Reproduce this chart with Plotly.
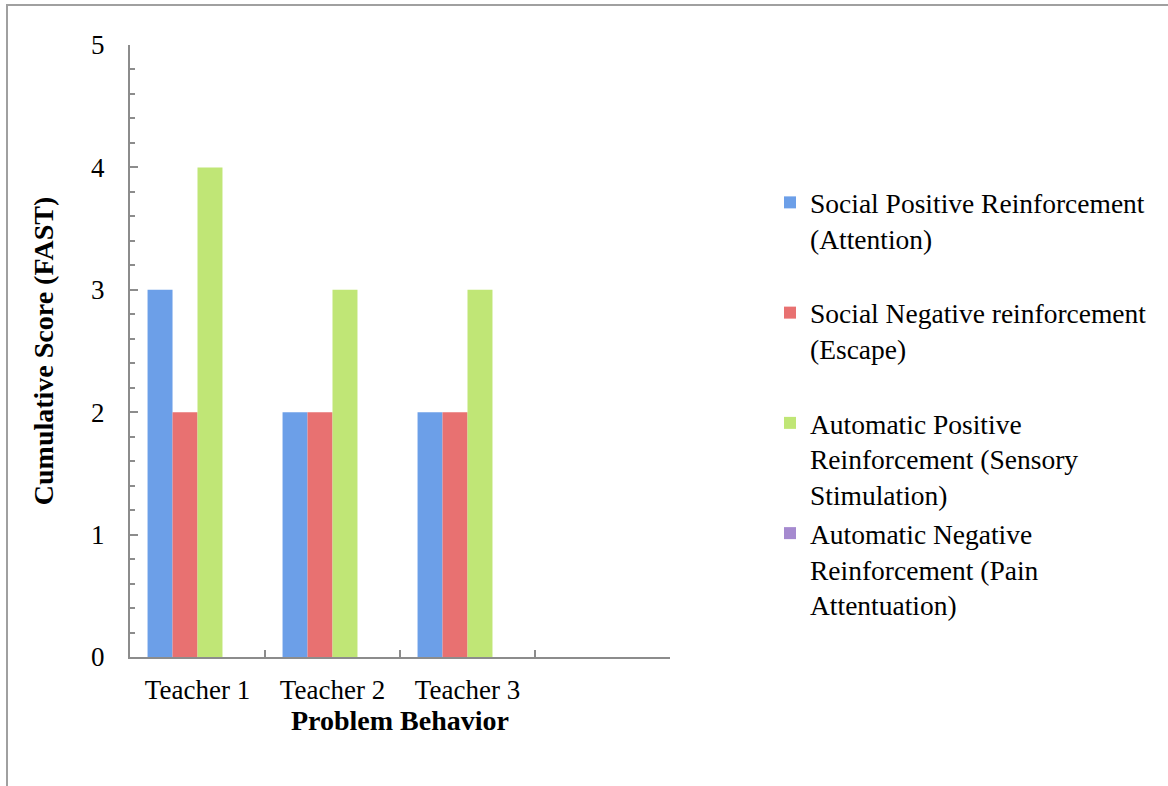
import plotly.graph_objects as go

categories = ["Teacher 1", "Teacher 2", "Teacher 3"]
all_slots = ["Teacher 1", "Teacher 2", "Teacher 3", " "]
series_names = [
    "Social Positive Reinforcement<br>(Attention)<br>\u00a0",
    "Social Negative reinforcement<br>(Escape)<br>\u00a0",
    "Automatic Positive<br>Reinforcement (Sensory<br>Stimulation)",
    "Automatic Negative<br>Reinforcement (Pain<br>Attentuation)",
]
social_positive = [3, 2, 2]
social_negative = [2, 2, 2]
automatic_positive = [4, 3, 3]
automatic_negative = [0, 0, 0]
series_values = [social_positive, social_negative, automatic_positive, automatic_negative]
colors = ["#6C9FE8", "#E87171", "#C0E676", "#A58ACF"]
y_ticks = [0, 1, 2, 3, 4, 5]

FONT = "Liberation Serif"
W, H = 1168, 786

fig = go.Figure()
for name, vals, col in zip(series_names, series_values, colors):
    fig.add_trace(go.Bar(x=categories, y=vals, name=name,
                         marker=dict(color=col, line=dict(width=0))))

x0, x1 = 130, 670
y0, y1 = 45, 657

fig.update_layout(
    width=W, height=H,
    margin=dict(l=0, r=0, t=0, b=0),
    paper_bgcolor="white", plot_bgcolor="white",
    font=dict(family=FONT, size=27, color="black"),
    barmode="group", bargap=0.26, bargroupgap=0,
    showlegend=True,
    legend=dict(x=770 / W, y=1 - 178 / H, xanchor="left", yanchor="top",
                valign="top", font=dict(family=FONT, size=27.5),
                bgcolor="rgba(0,0,0,0)", borderwidth=0, tracegroupgap=0,
                traceorder="normal"),
    xaxis=dict(domain=[x0 / W, x1 / W], type="category",
               categoryorder="array", categoryarray=all_slots,
               range=[-0.5, 3.5], tickson="boundaries", ticks="inside",
               ticklen=7, tickwidth=2, tickcolor="#8C8C8C",
               showline=True, linecolor="#8C8C8C", linewidth=2,
               showgrid=False, zeroline=False, automargin=False,
               ticklabelstandoff=8,
               tickfont=dict(family=FONT, size=27),
               title=dict(text="<b>Problem Behavior</b>", standoff=0,
                          font=dict(family=FONT, size=28))),
    yaxis=dict(domain=[1 - y1 / H, 1 - y0 / H], range=[0, 5],
               tickvals=y_ticks, ticks="inside", ticklen=8, tickwidth=2,
               tickcolor="#8C8C8C", showline=True, linecolor="#8C8C8C",
               linewidth=2, showgrid=False, zeroline=False, automargin=False,
               ticklabelstandoff=18,
               minor=dict(dtick=0.2, ticks="inside", ticklen=5, tickwidth=2,
                          tickcolor="#8C8C8C", showgrid=False),
               tickfont=dict(family=FONT, size=27),
               title=dict(text="<b>Cumulative Score (FAST)</b>", standoff=29,
                          font=dict(family=FONT, size=28))),
    shapes=[dict(type="rect", xref="paper", yref="paper",
                 x0=7 / W, x1=1.05, y0=-0.05, y1=1 - 5 / H,
                 line=dict(color="#A0A0A0", width=2), fillcolor="rgba(0,0,0,0)",
                 layer="below")],
)

fig.write_html("out.html")
